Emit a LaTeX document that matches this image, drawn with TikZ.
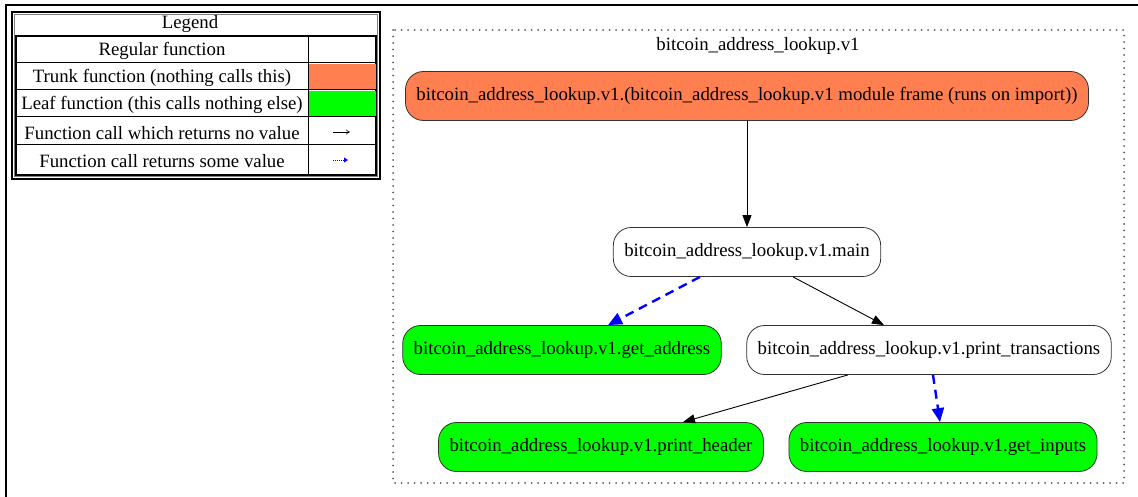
\documentclass[tikz,border=0pt]{standalone}
\usepackage{fontspec}
\setmainfont{Liberation Serif}
\usetikzlibrary{arrows.meta}
\definecolor{coral}{RGB}{255,127,80}
\definecolor{leafgreen}{RGB}{0,255,0}

\begin{document}
\begin{tikzpicture}[x=1pt, y=-1pt, every node/.style={font=\fontsize{18.8}{22}\selectfont},
    fnbox/.style={draw=black!80, line width=0.8pt, rounded corners=18pt, minimum height=49pt, inner xsep=11pt},
    trunkbox/.style={fnbox, fill=coral},
    leafbox/.style={fnbox, fill=leafgreen},
    novalue/.style={-{Triangle[length=12pt, width=9pt]}, line width=0.9pt},
    somevalue/.style={-{Triangle[length=14pt, width=12pt]}, blue, line width=2.4pt, dash pattern=on 9pt off 6pt}]
    \useasboundingbox (0,0) rectangle (1138,497);

    % Frame
    \draw[line width=2.5pt] (5,5) -- (1138,5);
    \draw[line width=2.5pt] (6,5) -- (6,497);

    % Legend
    \draw[line width=1.8pt] (12,12) rectangle (380,179);
    \draw[black!50, line width=0.8pt] (14.5,14.5) rectangle (377.5,176.5);
    \node (legend) at (190,24) {Legend};
    \draw[line width=1.5pt] (16,36) rectangle (376,175);
    \fill[coral] (309,64) rectangle (375.5,89);
    \fill[leafgreen] (309,91) rectangle (375.5,117);
    \foreach \y in {63,90,117,145} {
        \draw[line width=1pt] (16,\y) -- (376,\y);
    }
    \draw[line width=1pt] (308,36) -- (308,175);
    \node (regular) at (162,51) {Regular function};
    \node (trunk) at (162,78) {Trunk function (nothing calls this)};
    \node (leaf) at (162,105) {Leaf function (this calls nothing else)};
    \node (noval) at (162,133) {Function call which returns no value};
    \node (someval) at (162,161) {Function call returns some value};
    \coordinate (nv1) at (333,132);
    \coordinate (nv2) at (350,132);
    \coordinate (sv1) at (333,160);
    \coordinate (sv2) at (348,160);
    \draw[-{To[length=4pt, width=5pt]}, line width=0.6pt] (nv1) -- (nv2);
    \draw[-{Triangle[length=4pt, width=5pt]}, blue, line width=0.8pt, dash pattern=on 1pt off 1pt] (sv1) -- (sv2);

    % Cluster
    \draw[black!65, line width=2pt, dash pattern=on 0pt off 6.5pt, line cap=round] (393,30) rectangle (1124,483);
    \node (cluster) at (758,46) {bitcoin\_address\_lookup.v1};

    % Functions
    \node[trunkbox] (frame) at (747,96) {bitcoin\_address\_lookup.v1.(bitcoin\_address\_lookup.v1 module frame (runs on import))};
    \node[fnbox] (main) at (747,252) {bitcoin\_address\_lookup.v1.main};
    \node[leafbox] (getaddr) at (562,350) {bitcoin\_address\_lookup.v1.get\_address};
    \node[fnbox] (printtx) at (929,350) {bitcoin\_address\_lookup.v1.print\_transactions};
    \node[leafbox] (header) at (601,447) {bitcoin\_address\_lookup.v1.print\_header};
    \node[leafbox] (inputs) at (943,447) {bitcoin\_address\_lookup.v1.get\_inputs};

    % Calls
    \draw[novalue] (frame) -- (main);
    \draw[somevalue] ([xshift=-47pt]main.south) -- ([xshift=46pt]getaddr.north);
    \draw[novalue] ([xshift=46pt]main.south) -- ([xshift=-45pt]printtx.north);
    \draw[novalue] ([xshift=-81pt]printtx.south) -- ([xshift=82pt]header.north);
    \draw[somevalue] ([xshift=4pt]printtx.south) -- ([xshift=-3pt]inputs.north);
\end{tikzpicture}
\end{document}
